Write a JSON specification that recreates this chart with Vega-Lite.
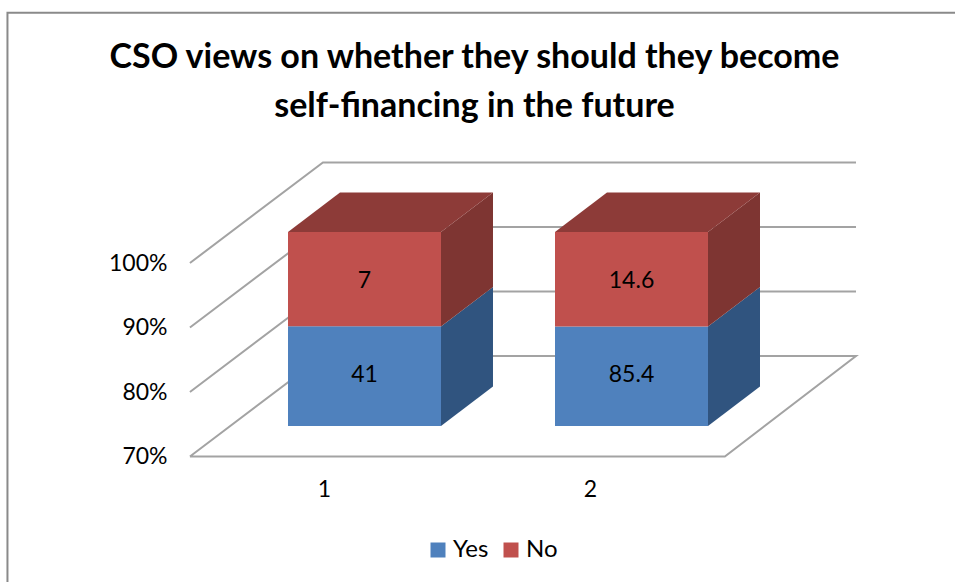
{
  "$schema": "https://vega.github.io/schema/vega-lite/v6.json",
  "width": 955,
  "height": 582,
  "padding": 0,
  "autosize": {"type": "none"},
  "background": "white",
  "config": {"view": {"stroke": null}, "font": "Lato"},
  "title": {
    "text": ["CSO views on whether they should they become", "self-financing in the future"],
    "orient": "top",
    "anchor": "middle",
    "frame": "group",
    "baseline": "top",
    "dx": -3,
    "dy": 128,
    "font": "Lato",
    "fontWeight": "bold",
    "fontSize": 34,
    "lineHeight": 49,
    "color": "#000000"
  },
  "datasets": {
    "frame": [
      {"step": 1, "along": -0.19, "level": 50.0},
      {"step": 2, "along": -0.19, "level": 138.8},
      {"step": 3, "along": 3.375, "level": 138.8}
    ],
    "walls": [
      {"path": "floor", "step": 1, "along": 0.496, "level": 70},
      {"path": "floor", "step": 2, "along": 0.996, "level": 85.58},
      {"path": "floor", "step": 3, "along": 3.0, "level": 85.58},
      {"path": "floor", "step": 4, "along": 2.507, "level": 70},
      {"path": "floor", "step": 5, "along": 0.496, "level": 70},
      {"path": "80%", "step": 1, "along": 0.496, "level": 80},
      {"path": "80%", "step": 2, "along": 0.996, "level": 95.58},
      {"path": "80%", "step": 3, "along": 3.0, "level": 95.58},
      {"path": "90%", "step": 1, "along": 0.496, "level": 90},
      {"path": "90%", "step": 2, "along": 0.996, "level": 105.58},
      {"path": "90%", "step": 3, "along": 3.0, "level": 105.58},
      {"path": "100%", "step": 1, "along": 0.496, "level": 100},
      {"path": "100%", "step": 2, "along": 0.996, "level": 115.58},
      {"path": "100%", "step": 3, "along": 3.0, "level": 115.58}
    ],
    "sides": [
      {"bar": 1, "face": "Yes side", "along": 1.4398, "low": 74.73, "high": 90.16},
      {"bar": 1, "face": "Yes side", "along": 1.6353, "low": 80.85, "high": 96.28},
      {"bar": 1, "face": "No side", "along": 1.4398, "low": 90.16, "high": 104.81},
      {"bar": 1, "face": "No side", "along": 1.6353, "low": 96.28, "high": 110.93},
      {"bar": 2, "face": "Yes side", "along": 2.4436, "low": 74.73, "high": 90.16},
      {"bar": 2, "face": "Yes side", "along": 2.6391, "low": 80.85, "high": 96.28},
      {"bar": 2, "face": "No side", "along": 2.4436, "low": 90.16, "high": 104.81},
      {"bar": 2, "face": "No side", "along": 2.6391, "low": 96.28, "high": 110.93}
    ],
    "tops": [
      {"bar": 1, "level": 104.81, "start": 0.8647, "end": 1.4398},
      {"bar": 1, "level": 110.93, "start": 1.0602, "end": 1.6353},
      {"bar": 2, "level": 104.81, "start": 1.8684, "end": 2.4436},
      {"bar": 2, "level": 110.93, "start": 2.0639, "end": 2.6391}
    ],
    "responses": [
      {"group": 1, "series": "Yes", "value": 41},
      {"group": 1, "series": "No", "value": 7},
      {"group": 2, "series": "Yes", "value": 85.4},
      {"group": 2, "series": "No", "value": 14.6}
    ]
  },
  "layer": [
    {
      "data": {"name": "frame"},
      "mark": {"type": "line", "color": "#8a8a8a", "strokeWidth": 2},
      "encoding": {
        "x": {
          "field": "along",
          "type": "quantitative",
          "title": null,
          "scale": {"domain": [1, 2], "range": [324, 590], "nice": false, "zero": false},
          "axis": {
            "values": [1, 2],
            "format": "d",
            "orient": "bottom",
            "offset": -104,
            "domain": false,
            "ticks": false,
            "grid": false,
            "labelFlush": false,
            "labelPadding": 0,
            "labelFont": "Lato",
            "labelFontSize": 23,
            "labelColor": "#000000",
            "title": null
          }
        },
        "y": {
          "field": "level",
          "type": "quantitative",
          "title": null,
          "scale": {"domain": [70, 100], "range": [456.5, 263], "nice": false, "zero": false},
          "axis": {
            "values": [70, 80, 90, 100],
            "labelExpr": "datum.value + '%'",
            "orient": "left",
            "offset": -167,
            "domain": false,
            "ticks": false,
            "grid": false,
            "labelFlush": false,
            "labelPadding": 0,
            "labelFont": "Lato",
            "labelFontSize": 23,
            "labelColor": "#000000",
            "title": null
          }
        },
        "order": {"field": "step"}
      }
    },
    {
      "layer": [
        {
          "data": {"name": "walls"},
          "mark": {"type": "line", "color": "#a3a3a3", "strokeWidth": 2},
          "encoding": {
            "x": {
              "field": "along",
              "type": "quantitative",
              "axis": null,
              "scale": {"domain": [1, 2], "range": [324, 590], "nice": false, "zero": false}
            },
            "y": {
              "field": "level",
              "type": "quantitative",
              "axis": null,
              "scale": {"domain": [70, 100], "range": [456.5, 263], "nice": false, "zero": false}
            },
            "detail": {"field": "path"},
            "order": {"field": "step"}
          }
        },
        {
          "data": {"name": "sides"},
          "mark": {"type": "area", "orient": "vertical"},
          "encoding": {
            "x": {"field": "along", "type": "quantitative", "axis": null},
            "y": {"field": "low", "type": "quantitative", "axis": null, "stack": null},
            "y2": {"field": "high"},
            "color": {
              "field": "face",
              "type": "nominal",
              "legend": null,
              "scale": {"domain": ["Yes side", "No side"], "range": ["#30547f", "#7e3532"]}
            },
            "detail": {"field": "bar"}
          }
        },
        {
          "data": {"name": "tops"},
          "mark": {"type": "area", "orient": "horizontal", "color": "#8d3b38"},
          "encoding": {
            "y": {"field": "level", "type": "quantitative", "axis": null},
            "x": {"field": "start", "type": "quantitative", "axis": null, "stack": null},
            "x2": {"field": "end"},
            "detail": {"field": "bar"}
          }
        }
      ]
    },
    {
      "data": {"name": "responses"},
      "transform": [
        {
          "stack": "value",
          "groupby": ["group"],
          "sort": [{"field": "series", "order": "descending"}],
          "offset": "normalize",
          "as": ["share_from", "share_to"]
        }
      ],
      "encoding": {
        "x": {
          "field": "group",
          "type": "ordinal",
          "axis": null,
          "scale": {"type": "band", "domain": [1, 2], "range": [231, 765], "paddingInner": 0.427, "paddingOuter": 0.2135}
        },
        "y": {
          "field": "share_to",
          "type": "quantitative",
          "axis": null,
          "scale": {"domain": [0.7, 1], "range": [426, 232], "clamp": true, "nice": false, "zero": false}
        }
      },
      "layer": [
        {
          "mark": {"type": "bar"},
          "encoding": {
            "y2": {"field": "share_from"},
            "color": {
              "field": "series",
              "type": "nominal",
              "scale": {"domain": ["Yes", "No"], "range": ["#4f81bd", "#c0504d"]},
              "legend": {
                "orient": "none",
                "legendX": 426,
                "legendY": 538,
                "direction": "horizontal",
                "title": null,
                "symbolType": "square",
                "symbolSize": 225,
                "symbolStrokeWidth": 0,
                "labelFont": "Lato",
                "labelFontSize": 24,
                "labelColor": "#000000",
                "labelOffset": 3,
                "columnPadding": 10
              }
            }
          }
        },
        {
          "mark": {"type": "text", "font": "Lato", "fontSize": 23, "color": "#000000", "dy": 48.5},
          "encoding": {
            "text": {"field": "value", "type": "quantitative"}
          }
        }
      ]
    }
  ],
  "resolve": {
    "scale": {"x": "independent", "y": "independent", "color": "independent"},
    "axis": {"x": "independent", "y": "independent"}
  }
}
